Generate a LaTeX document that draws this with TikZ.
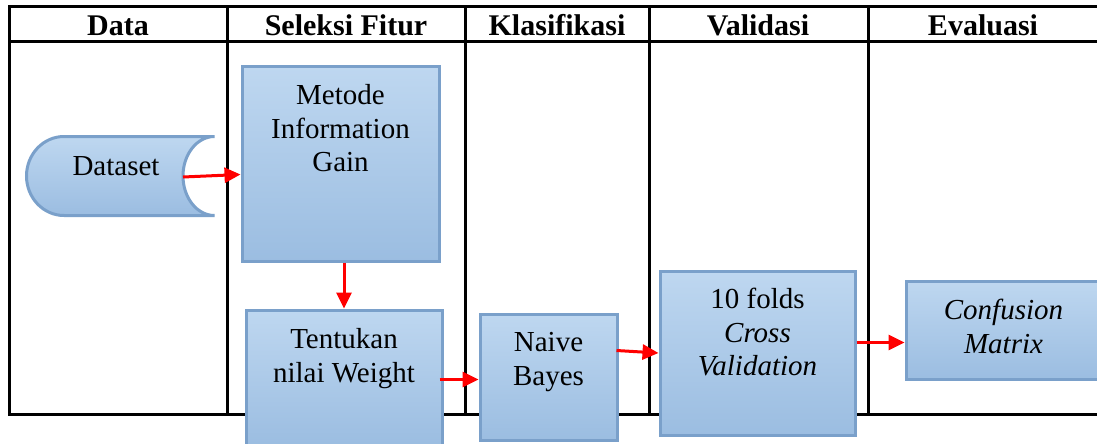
\documentclass[tikz,border=0pt]{standalone}
\usepackage{fontspec}
\setmainfont{Liberation Serif}
\usetikzlibrary{arrows.meta}
\definecolor{boxtop}{RGB}{190,215,240}
\definecolor{boxbot}{RGB}{155,189,225}
\definecolor{boxline}{RGB}{122,160,202}
\definecolor{arrred}{RGB}{255,0,0}
\newcommand\bodyfnt{\fontsize{29}{33.5}\selectfont}
\newcommand\hdrfnt{\fontsize{30}{36}\selectfont\bfseries}
\newcommand\bxt[4]{\parbox[t][#2][t]{#1}{\centering\rule{0pt}{#3}#4}}
\begin{document}
\begin{tikzpicture}[x=1pt,y=-1pt,
  tline/.style={line width=3pt, draw=black},
  box/.style={draw=boxline, line width=3pt, top color=boxtop, bottom color=boxbot,
    inner sep=0pt, anchor=north west, font=\bodyfnt},
  hdr/.style={font=\hdrfnt, anchor=base, inner sep=0pt},
  arr/.style={draw=arrred, line width=3pt, -{Triangle[length=16pt,width=15pt]}}]
\path[use as bounding box] (0,0) rectangle (1097,444);
\clip (0,0) rectangle (1097,444);
% table
\draw[tline] (1105,7) -- (9,7) -- (9,414) -- (1105,414);
\draw[tline] (9,42) -- (1105,42);
\foreach \xx in {227,465,649,868} \draw[tline] (\xx,7) -- (\xx,414);
% headers
\node[hdr] (hData) at (118,36) {Data};
\node[hdr] (hSel) at (346,36) {Seleksi Fitur};
\node[hdr] (hKla) at (557,36) {Klasifikasi};
\node[hdr] (hVal) at (758,36) {Validasi};
\node[hdr] (hEva) at (983,36) {Evaluasi};
% dataset shape
\path[draw=boxline, line width=3pt, top color=boxtop, bottom color=boxbot]
  (214.5,136.5) -- (64,136.5)
  arc[start angle=270, end angle=90, x radius=37.5, y radius=39.5]
  -- (214.5,215.5)
  arc[start angle=90, end angle=270, x radius=31.5, y radius=39.5] -- cycle;
\node[font=\bodyfnt, anchor=base, inner sep=0pt] (dataset) at (116,175) {Dataset};
\coordinate (dsout) at (183,177);
% boxes
\node[box] (metode) at (240.5,65.5) {\bxt{197pt}{194pt}{37.5pt}{Metode\\Information\\Gain}};
\node[box] (tentukan) at (244.5,308.5) {\bxt{196pt}{136pt}{38.5pt}{Tentukan\\nilai Weight}};
\node[box] (naive) at (478.5,312.5) {\bxt{137pt}{126pt}{37.5pt}{Naive\\Bayes}};
\node[box] (cross) at (658.5,269.5) {\bxt{195pt}{164pt}{37.5pt}{10 folds\\\textit{Cross}\\\textit{Validation}}};
\node[box] (confusion) at (904.5,279.5) {\bxt{195pt}{98pt}{38.5pt}{\textit{Confusion}\\\textit{Matrix}}};
% arrows
\draw[arr] (dsout) -- ([yshift=-10.5pt]metode.west);
\draw[arr] (tentukan.north |- metode.south) -- (tentukan.north);
\path ([yshift=-2.5pt]naive.west) coordinate (nIn);
\draw[arr] ([xshift=-4pt]tentukan.east |- nIn) -- (nIn);
\draw[arr] ([xshift=-2pt,yshift=26.5pt]naive.east) -- (cross.west);
\path ([yshift=10.5pt]cross.east) coordinate (cOut);
\draw[arr] (cOut) -- (confusion.west |- cOut);
\end{tikzpicture}
\end{document}
